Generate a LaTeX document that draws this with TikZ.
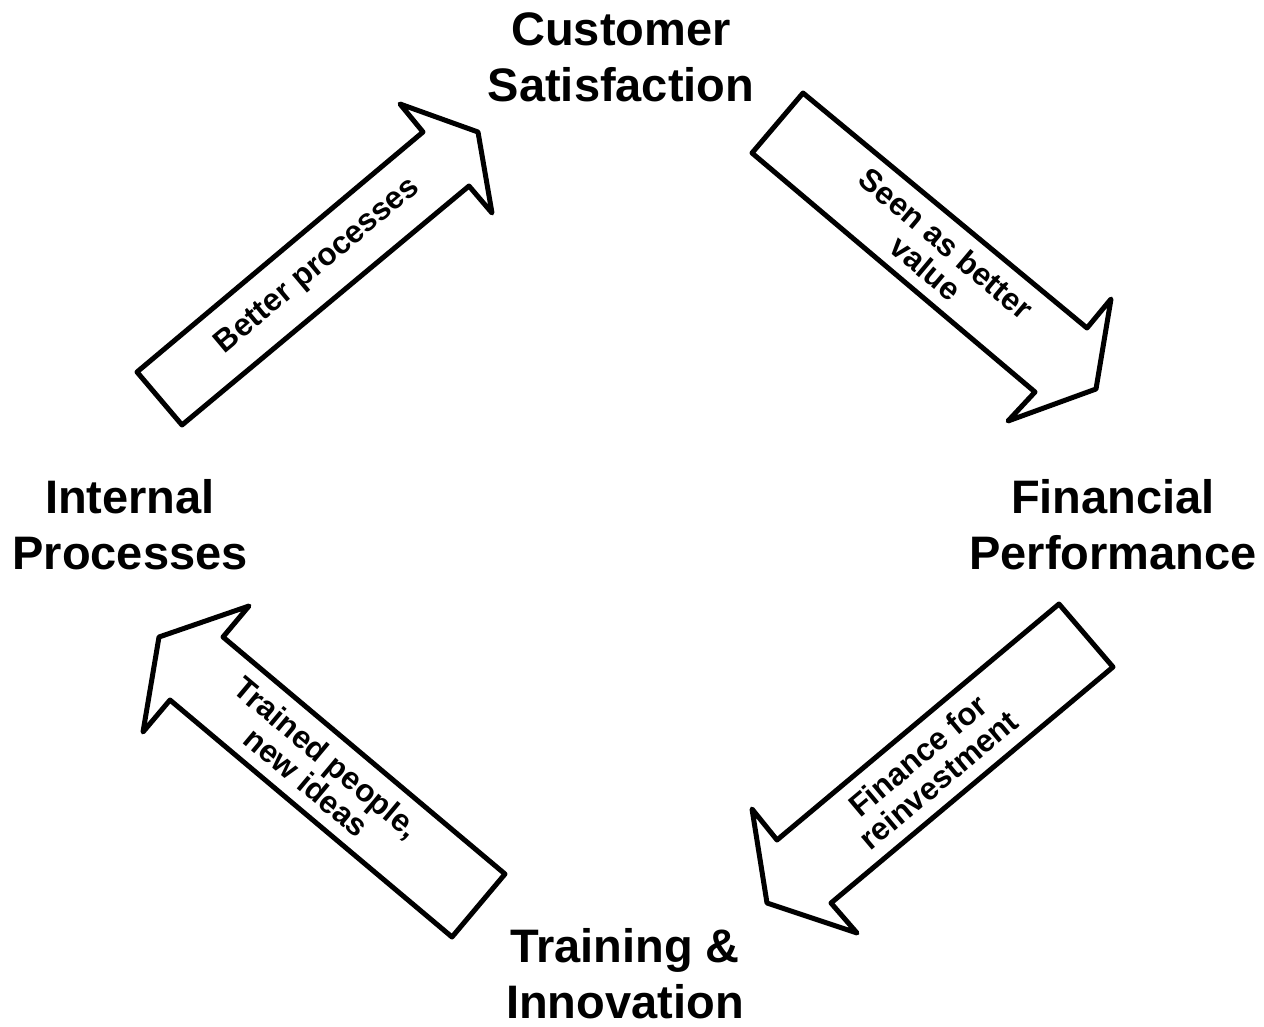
\documentclass[tikz,border=0pt]{standalone}
\usepackage{fontspec}
\setmainfont{Liberation Sans}
\usetikzlibrary{calc}
\begin{document}
\begin{tikzpicture}[x=1pt,y=-1pt,
  blockarrow/.style={draw=black, line width=5pt, line join=round, fill=white},
  stage/.style={font=\fontsize{47}{56}\selectfont\bfseries, align=center, inner sep=0pt, anchor=south},
  flowlabel/.style={font=\fontsize{31.5}{32}\selectfont\bfseries, align=center, inner sep=0pt}]
\useasboundingbox (0,0) rectangle (1264,1026);

% the four stages of the cycle
\node[stage] (cust)  at (621,102)  {Customer\\Satisfaction};
\node[stage] (fin)   at (1113,570) {Financial\\Performance};
\node[stage] (int)   at (130,570)  {Internal\\Processes};
\node[stage] (train) at (625,1019) {Training \&\\Innovation};

% block arrow: internal processes -> customer satisfaction
\draw[blockarrow] (137,372) -- (423,132) -- (400,104) -- (478,132) -- (492,213) -- (469,186) -- (182,425) -- cycle;
\coordinate (a1t) at (159.5,398.5);
\coordinate (a1h) at (446,159);
\node[flowlabel, rotate=40] (l1) at ($(a1t)!0.553!(a1h)$) {Better processes};

% block arrow: customer satisfaction -> financial performance
\draw[blockarrow] (803,93) -- (1087,328) -- (1111,299) -- (1096,389) -- (1008,421) -- (1035,392) -- (752,153) -- cycle;
\coordinate (a2t) at (777.5,123);
\coordinate (a2h) at (1061,360);
\node[flowlabel, rotate=-40] (l2) at ($(a2t)!0.56!(a2h)$) {Seen as better\\value};

% block arrow: financial performance -> training & innovation
\draw[blockarrow] (1059,604) -- (777,840) -- (752,809) -- (767,903) -- (857,933) -- (831,903) -- (1113,667) -- cycle;
\coordinate (a3t) at (1086,635.5);
\coordinate (a3h) at (804,871.5);
\node[flowlabel, rotate=40] (l3) at ($(a3t)!0.56!(a3h)$) {Finance for\\reinvestment};

% block arrow: training & innovation -> internal processes
\draw[blockarrow] (505,874) -- (223,637) -- (249,606) -- (159,637) -- (143,732) -- (170,700) -- (452,937) -- cycle;
\coordinate (a4t) at (478.5,905.5);
\coordinate (a4h) at (196.5,668.5);
\node[flowlabel, rotate=-40] (l4) at ($(a4t)!0.573!(a4h)$) {Trained people,\\new ideas};
\end{tikzpicture}
\end{document}
